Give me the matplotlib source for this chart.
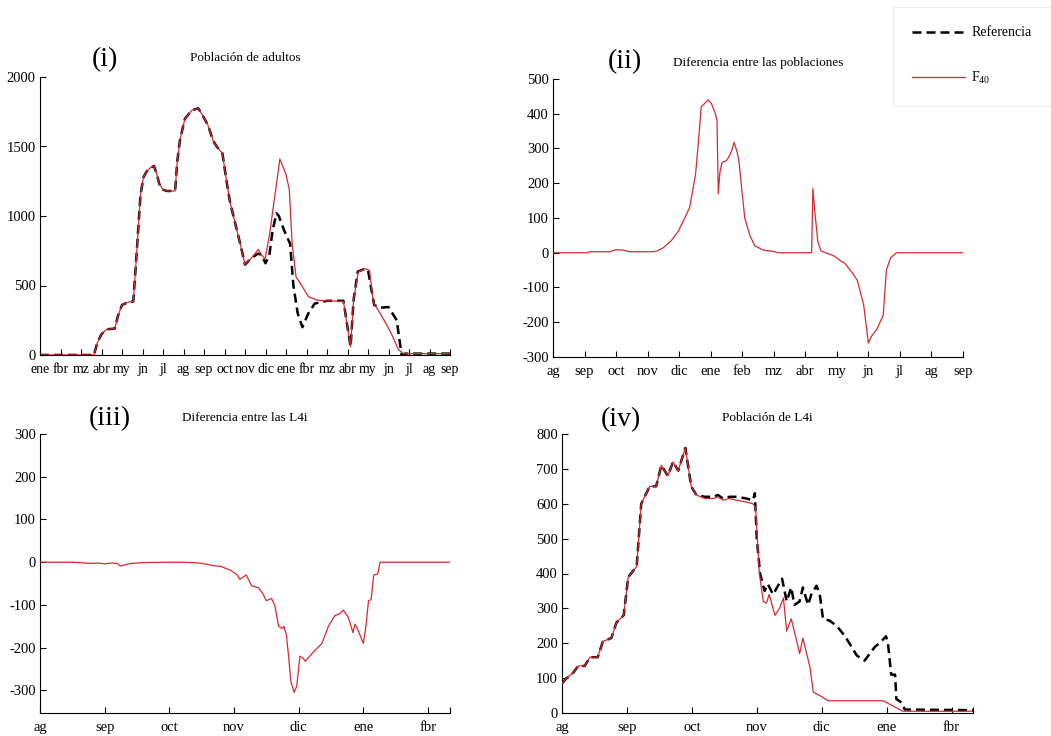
import matplotlib
matplotlib.use("Agg")
import matplotlib.pyplot as plt
from matplotlib.lines import Line2D

plt.rcParams['font.family'] = ['Liberation Serif', 'DejaVu Serif']
plt.rcParams['axes.unicode_minus'] = False

# ---------------- data ----------------
# (i) Poblacion de adultos  (x in months from first 'ene')
months_i = ['ene', 'fbr', 'mz', 'abr', 'my', 'jn', 'jl', 'ag', 'sep', 'oct', 'nov',
            'dic', 'ene', 'fbr', 'mz', 'abr', 'my', 'jn', 'jl', 'ag', 'sep']
ref_i_x = [0, 2.63, 2.8, 3.0, 3.25, 3.65, 3.8, 4.0, 4.3, 4.55, 4.7, 4.9, 5.05, 5.2, 5.37,
           5.56, 5.7, 5.82, 6.0, 6.18, 6.59, 6.7, 6.83, 7.07, 7.4, 7.72, 7.95, 8.2, 8.45,
           8.62, 8.9, 9.1, 9.27, 9.6, 9.8, 10.0, 10.33, 10.65, 10.8, 11.0, 11.19, 11.35,
           11.54, 11.65, 11.9, 12.2, 12.36, 12.57, 12.8, 13.09, 13.4, 14.0, 14.8, 15.15,
           15.3, 15.5, 15.85, 16.0, 16.3, 16.6, 17.0, 17.4, 17.64, 17.8, 20]
ref_i_y = [0, 0, 90, 150, 185, 190, 280, 360, 380, 385, 700, 1150, 1280, 1320, 1345,
           1360, 1300, 1230, 1190, 1180, 1180, 1400, 1550, 1700, 1760, 1775, 1720, 1650, 1540,
           1500, 1450, 1250, 1100, 900, 780, 650, 700, 730, 720, 660, 720, 900,
           1020, 1000, 900, 800, 500, 300, 200, 300, 370, 390, 390, 60,
           400, 600, 620, 610, 360, 340, 345, 250, 0, 10, 10]
f40_i_x = [0, 2.63, 2.8, 3.0, 3.25, 3.65, 3.8, 4.0, 4.3, 4.55, 4.7, 4.9, 5.05, 5.2, 5.37,
           5.56, 5.7, 5.82, 6.0, 6.18, 6.59, 6.7, 6.83, 7.07, 7.4, 7.72, 7.95, 8.2, 8.45,
           8.62, 8.9, 9.1, 9.27, 9.6, 9.8, 10.0, 10.33, 10.65, 10.8, 10.98, 11.2, 11.46,
           11.7, 12.0, 12.16, 12.3, 12.49, 12.68, 13.09, 13.5, 14.0, 14.8, 15.15, 15.3,
           15.53, 15.85, 16.07, 16.26, 16.59, 16.9, 17.15, 17.48, 17.72, 20]
f40_i_y = [0, 0, 90, 150, 185, 190, 280, 360, 380, 385, 700, 1150, 1280, 1320, 1345,
           1360, 1300, 1230, 1190, 1180, 1180, 1400, 1550, 1700, 1760, 1775, 1720, 1650, 1540,
           1500, 1450, 1250, 1100, 900, 780, 650, 700, 760, 720, 690, 870, 1150,
           1410, 1300, 1190, 800, 560, 520, 420, 395, 390, 385, 60, 400,
           600, 620, 610, 380, 300, 220, 150, 40, 10, 10]

# (ii) Diferencia entre las poblaciones (x in months from 'ag')
months_ii = ['ag', 'sep', 'oct', 'nov', 'dic', 'ene', 'feb', 'mz', 'abr', 'my', 'jn',
             'jl', 'ag', 'sep']
dif_ii_x = [0, 1.1, 1.15, 1.8, 2.0, 2.2, 2.43, 3.17, 3.3, 3.49, 3.75, 3.96, 4.18, 4.33,
            4.52, 4.62, 4.70, 4.81, 4.92, 5.02, 5.15, 5.20, 5.24, 5.29, 5.36, 5.5, 5.6,
            5.69, 5.74, 5.84, 5.9, 6.0, 6.08, 6.24, 6.4, 6.66, 7.03, 7.14, 8.2, 8.24,
            8.3, 8.4, 8.5, 8.93, 9.14, 9.25, 9.51, 9.65, 9.85, 10.0, 10.1, 10.27, 10.47,
            10.57, 10.7, 10.89, 13]
dif_ii_y = [0, 0, 3, 3, 9, 8, 3, 3, 5, 14, 35, 60, 100, 130,
            225, 330, 420, 430, 440, 430, 400, 380, 170, 230, 260, 265, 280,
            300, 318, 290, 260, 170, 100, 50, 20, 8, 3, 0, 0, 185,
            120, 30, 5, -10, -25, -30, -60, -80, -150, -260, -240, -220, -180,
            -50, -15, 0, 0]

# (iii) Diferencia entre las L4i
months_iii = ['ag', 'sep', 'oct', 'nov', 'dic', 'ene', 'fbr']
dif_iii_x = [0, 0.5, 0.8, 0.9, 1.0, 1.1, 1.2, 1.24, 1.4, 1.6, 2.0, 2.2, 2.47, 2.68, 2.8,
             2.96, 3.05, 3.09, 3.19, 3.27, 3.38, 3.45, 3.5, 3.58, 3.63, 3.69, 3.74, 3.77,
             3.81, 3.85, 3.88, 3.93, 3.97, 4.02, 4.07, 4.1, 4.23, 4.36, 4.46, 4.56, 4.64,
             4.69, 4.77, 4.84, 4.87, 4.92, 5.0, 5.04, 5.08, 5.12, 5.16, 5.22, 5.26, 6.34]
dif_iii_y = [0, 0, -3, -2, -4, -2, -3, -9, -3, -1, 0, 0, -2, -8, -10,
             -20, -30, -40, -30, -55, -60, -75, -90, -85, -100, -150, -155, -150,
             -170, -230, -280, -305, -290, -220, -225, -232, -210, -190, -150, -125, -120,
             -112, -130, -165, -145, -160, -190, -150, -90, -88, -30, -28, 0, 0]

# (iv) Poblacion de L4i
months_iv = ['ag', 'sep', 'oct', 'nov', 'dic', 'ene', 'fbr']
ref_iv_x = [0, 0.07, 0.17, 0.25, 0.35, 0.43, 0.55, 0.63, 0.76, 0.84, 0.95, 1.02, 1.15,
            1.22, 1.35, 1.45, 1.53, 1.63, 1.71, 1.79, 1.90, 1.99, 2.07, 2.2, 2.33, 2.4,
            2.48, 2.58, 2.69, 2.84, 2.94, 2.97, 3.0, 3.05, 3.12, 3.17, 3.25, 3.39, 3.46,
            3.53, 3.58, 3.66, 3.71, 3.79, 3.84, 3.92, 3.97, 4.02, 4.12, 4.23, 4.36, 4.54,
            4.66, 4.74, 4.82, 4.89, 4.99, 5.02, 5.07, 5.13, 5.15, 5.23, 5.28, 6.33]
ref_iv_y = [85, 100, 115, 135, 135, 160, 160, 205, 215, 260, 280, 390, 420,
            600, 650, 650, 710, 680, 720, 695, 760, 650, 625, 620, 620, 625,
            615, 620, 620, 615, 610, 630, 500, 400, 350, 370, 340, 385, 320,
            360, 310, 320, 360, 310, 340, 365, 340, 270, 265, 250, 220, 165,
            150, 170, 190, 200, 220, 200, 110, 110, 40, 30, 10, 8]
f40_iv_x = [0, 0.07, 0.17, 0.25, 0.35, 0.43, 0.55, 0.63, 0.76, 0.84, 0.95, 1.02, 1.15,
            1.22, 1.35, 1.45, 1.53, 1.63, 1.71, 1.79, 1.90, 1.99, 2.07, 2.2, 2.33, 2.4,
            2.48, 2.58, 2.69, 2.84, 2.94, 2.98, 3.04, 3.1, 3.15, 3.19, 3.28, 3.35, 3.41,
            3.46, 3.53, 3.61, 3.66, 3.71, 3.82, 3.87, 3.97, 4.1, 4.95, 5.1, 5.25, 6.33]
f40_iv_y = [85, 100, 115, 135, 135, 160, 160, 205, 215, 260, 280, 390, 420,
            600, 650, 650, 710, 680, 720, 695, 760, 650, 625, 615, 615, 620,
            610, 615, 610, 605, 600, 590, 400, 320, 315, 340, 280, 300, 330,
            235, 270, 210, 170, 215, 130, 60, 50, 35, 35, 20, 5, 5]

titles = ['Población de adultos', 'Diferencia entre las poblaciones',
          'Diferencia entre las L4i', 'Población de L4i']
tags = ['(i)', '(ii)', '(iii)', '(iv)']
legend_labels = ['Referencia', r'F$_{\mathregular{40}}$']

# ---------------- figure ----------------
W, H = 1051, 736
fig = plt.figure(figsize=(W / 100, H / 100), dpi=100)

RED = '#d42a2f'
BLACK = '#000000'
DASH = (0, (3.6, 2.0))


def px_axes(l, t, r, b):
    return fig.add_axes([l / W, 1 - b / H, (r - l) / W, (b - t) / H])


def style(ax, xmax, ticklabels, ylim, yticks, extra_end_tick=False, xsize=10.5):
    for s in ['top', 'right']:
        ax.spines[s].set_visible(False)
    ax.set_xlim(0, xmax)
    ax.set_ylim(*ylim)
    xt = list(range(len(ticklabels)))
    labs = list(ticklabels)
    if extra_end_tick:
        xt.append(xmax)
        labs.append('')
    ax.set_xticks(xt)
    ax.set_xticklabels(labs)
    ax.set_yticks(yticks)
    ax.tick_params(direction='in', length=4, width=0.8, labelsize=10.5, pad=3)
    ax.tick_params(axis='x', pad=6, labelsize=xsize)


def draw_ref(ax, x, y):
    ax.plot(x, y, color=BLACK, lw=1.8, ls=DASH, zorder=2)


def draw_f40(ax, x, y):
    ax.plot(x, y, color=RED, lw=0.9, zorder=3)


# (i)
ax1 = px_axes(40, 77, 450, 355)
draw_ref(ax1, ref_i_x, ref_i_y)
draw_f40(ax1, f40_i_x, f40_i_y)
style(ax1, 20, months_i, (0, 2000), range(0, 2001, 500), xsize=10)

# (ii)
ax2 = px_axes(553, 79, 963, 357)
draw_f40(ax2, dif_ii_x, dif_ii_y)
style(ax2, 13, months_ii, (-300, 500), range(-300, 501, 100))

# (iii)
ax3 = px_axes(40, 434, 450, 713)
draw_f40(ax3, dif_iii_x, dif_iii_y)
style(ax3, 6.34, months_iii, (-353, 300), range(-300, 301, 100), extra_end_tick=True)

# (iv)
ax4 = px_axes(562, 434, 973, 713)
draw_ref(ax4, ref_iv_x, ref_iv_y)
draw_f40(ax4, f40_iv_x, f40_iv_y)
style(ax4, 6.33, months_iv, (0, 800), range(0, 801, 100), extra_end_tick=True)

# titles and tags (figure pixel coordinates)
title_pos = [(245, 58), (758, 63), (245, 418), (767, 418)]
tag_pos = [(105, 60), (625, 62), (110, 419), (621, 420)]
for (tx, ty), t in zip(title_pos, titles):
    fig.text(tx / W, 1 - ty / H, t, ha='center', va='center', fontsize=9.5)
for (tx, ty), t in zip(tag_pos, tags):
    fig.text(tx / W, 1 - ty / H, t, ha='center', va='center', fontsize=20)

# legend
handles = [Line2D([], [], color=BLACK, lw=1.8, ls=DASH),
           Line2D([], [], color=RED, lw=0.9)]
leg = fig.legend(handles, legend_labels, loc='upper left',
                 bbox_to_anchor=(893 / W, 1 - 7 / H), fontsize=10, frameon=True,
                 fancybox=False, edgecolor='#ececec', handlelength=3.8,
                 labelspacing=2.2, borderpad=1.4, handletextpad=0.45,
                 borderaxespad=0)
leg.get_frame().set_linewidth(0.8)

fig.savefig('out.png', dpi=100)
